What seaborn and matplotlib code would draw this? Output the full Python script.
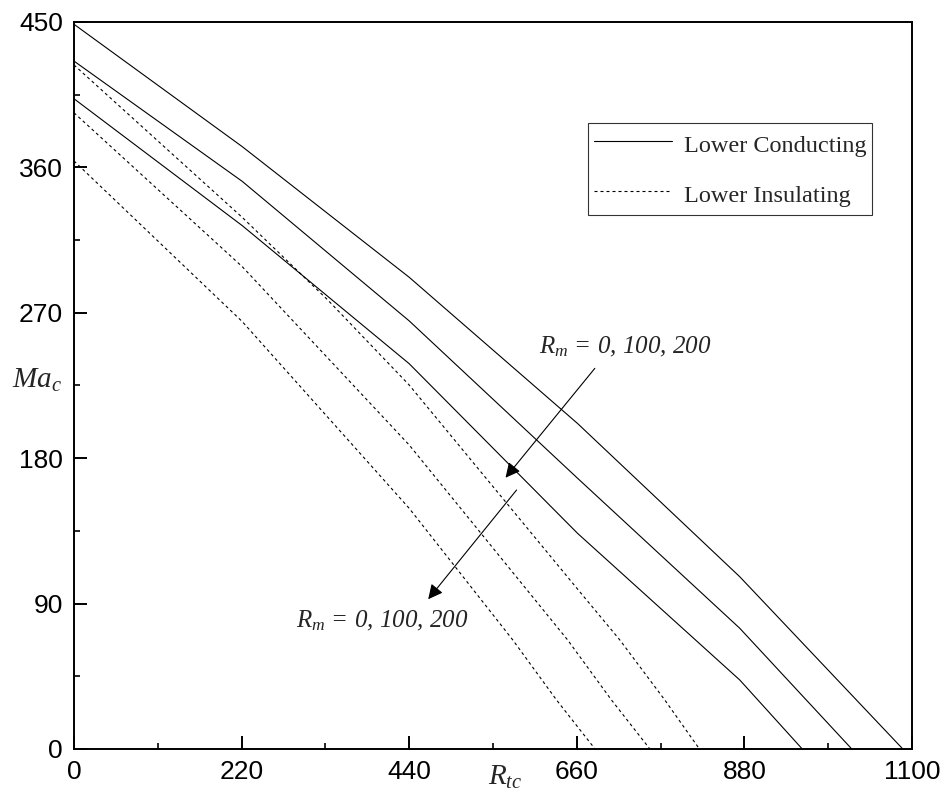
import matplotlib
matplotlib.use("Agg")
import matplotlib.pyplot as plt
import seaborn as sns
import pandas as pd
from matplotlib.lines import Line2D

# ---- data ----
cond_x = [
    [0, 221, 440, 661, 874, 1088],
    [0, 221, 440, 661, 874, 1021],
    [0, 221, 440, 661, 874, 956],
]
cond_y = [
    [448.6, 372.8, 292.0, 201.5, 106.6, 0],
    [425.8, 351.3, 265.0, 167.6, 74.7, 0],
    [402.5, 323.9, 238.5, 133.5, 42.7, 0],
]
ins_x = [
    [0, 221, 333, 440, 661, 716.5, 775.6, 821],
    [0, 221, 440, 648, 705.6, 756],
    [0, 221, 440, 576, 633.5, 684],
]
ins_y = [
    [423.4, 329.0, 278.0, 225.3, 99.0, 67.5, 30.3, 0],
    [393.8, 298.5, 188.2, 67.5, 30.3, 0],
    [364.0, 264.5, 149.0, 67.5, 30.3, 0],
]
rm_values = [0, 100, 200]
x_ticks = [0, 220, 440, 660, 880, 1100]
y_ticks = [0, 90, 180, 270, 360, 450]
legend_labels = ["Lower Conducting", "Lower Insulating"]

rows = []
for i, rm in enumerate(rm_values):
    for xv, yv in zip(cond_x[i], cond_y[i]):
        rows.append(dict(Rtc=xv, Mac=yv, bc=legend_labels[0], Rm=rm))
    for xv, yv in zip(ins_x[i], ins_y[i]):
        rows.append(dict(Rtc=xv, Mac=yv, bc=legend_labels[1], Rm=rm))
df = pd.DataFrame(rows)

sns.set_theme(style="ticks")
plt.rcParams["font.family"] = ["Liberation Sans", "DejaVu Sans"]
plt.rcParams["mathtext.fontset"] = "custom"
plt.rcParams["mathtext.rm"] = "Liberation Serif"
plt.rcParams["mathtext.it"] = "Liberation Serif:italic"
plt.rcParams["mathtext.bf"] = "Liberation Serif:bold"

fig = plt.figure(figsize=(9.47, 8.02), dpi=100)
ax = fig.add_axes([0.0781, 0.0661, 0.8849, 0.9065])

dash = (0, (2.7, 2.7))
styles = {legend_labels[0]: "-", legend_labels[1]: dash}
for (bc, rm), g in df.groupby(["bc", "Rm"], sort=False):
    sns.lineplot(data=g, x="Rtc", y="Mac", ax=ax, color="black",
                 linewidth=0.8, linestyle=styles[bc], sort=False,
                 estimator=None, legend=False)

ax.set_xlim(0, 1100)
ax.set_ylim(0, 450)
ax.set_xticks(x_ticks)
ax.set_yticks(y_ticks)
ax.set_xticks([110, 330, 550, 770, 990], minor=True)
ax.set_yticks([45, 135, 225, 315, 405], minor=True)
ax.tick_params(which="major", direction="in", length=9.5, width=1.4,
               labelsize=19, pad=8, colors="black")
ax.tick_params(which="minor", direction="in", length=4.5, width=1.4)
for s in ax.spines.values():
    s.set_linewidth(1.4)
    s.set_color("black")
ax.set_xlabel("")
ax.set_ylabel("")

# axis labels placed like the reference
fig.text(12 / 947, 1 - 388 / 802, r"$Ma_c$", fontsize=21, ha="left",
         va="baseline")
fig.text(488 / 947, 1 - 785 / 802, r"$R_{tc}$", fontsize=21, ha="left",
         va="baseline")

# legend
handles = [Line2D([], [], color="black", lw=0.8, linestyle="-"),
           Line2D([], [], color="black", lw=0.8, linestyle=dash)]
leg = ax.legend(handles, legend_labels, loc="upper left",
                bbox_to_anchor=(0.613, 0.861), borderaxespad=0,
                frameon=True, fancybox=False, edgecolor="black",
                handlelength=3.2, handleheight=1.5, handletextpad=0.5,
                labelspacing=0.84, borderpad=0.25,
                prop={"family": "Liberation Serif", "size": 17.5})
leg.get_frame().set_linewidth(0.8)

# annotations
ann = r"$R_m$ = 0, 100, 200"
tkw = dict(fontsize=18, ha="left", va="baseline", fontstyle="italic",
           family="Liberation Serif")
ax.text(610, 245, ann, **tkw)
ax.annotate("", xy=(566.5, 167.9), xytext=(683.7, 235.6),
            arrowprops=dict(arrowstyle="-|>", color="black", lw=0.8,
                            mutation_scale=22, shrinkA=0, shrinkB=0))
ax.text(292, 75, ann, **tkw)
ax.annotate("", xy=(465, 92.7), xytext=(581, 160.3),
            arrowprops=dict(arrowstyle="-|>", color="black", lw=0.8,
                            mutation_scale=22, shrinkA=0, shrinkB=0))

fig.savefig("out.png", dpi=100)
